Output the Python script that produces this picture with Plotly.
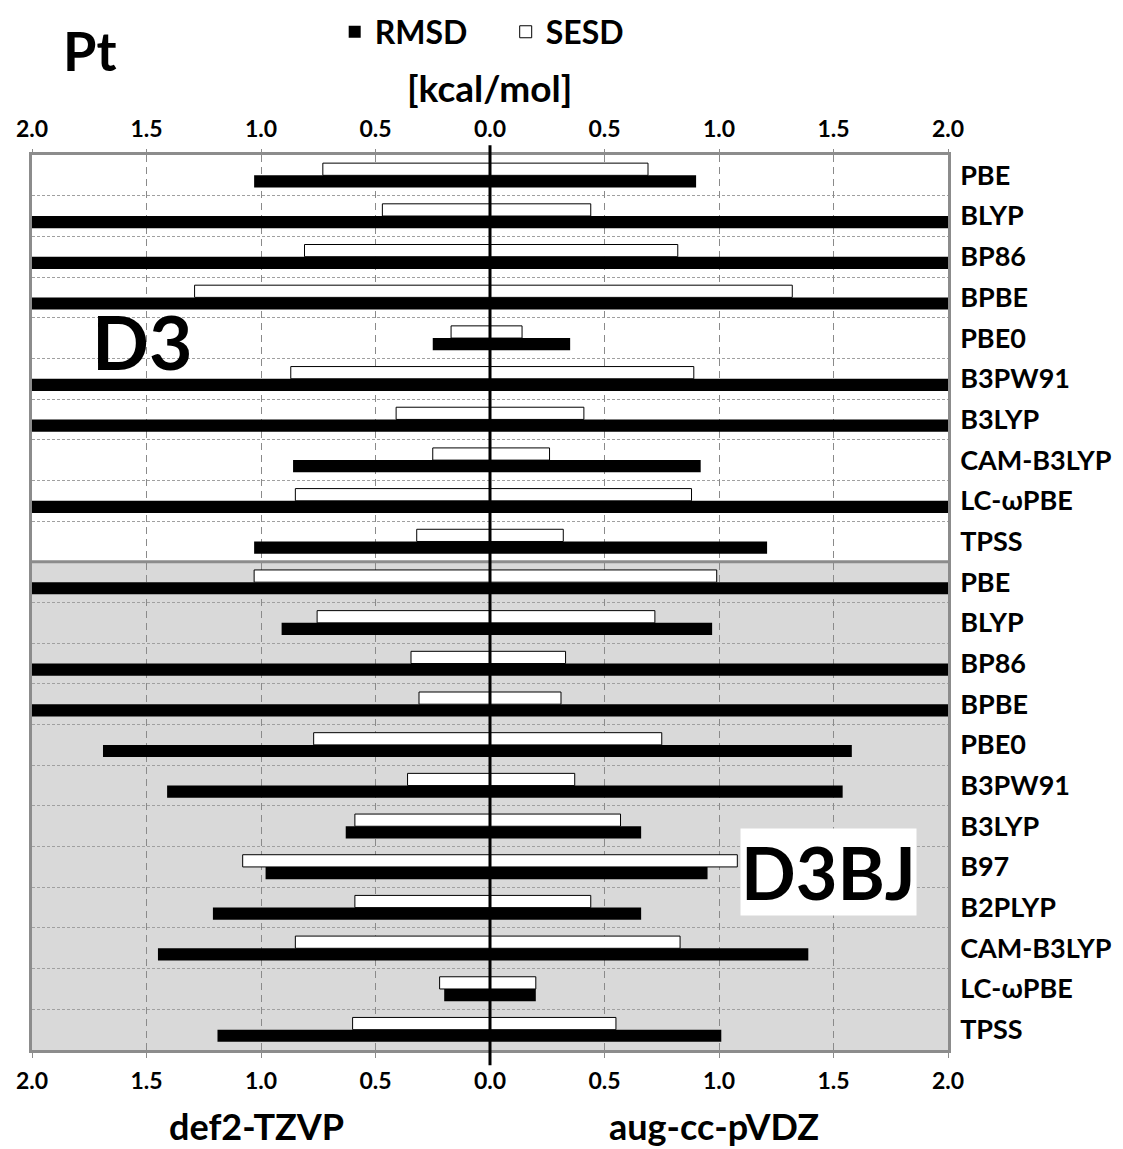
import plotly.graph_objects as go

# ---------------- data ----------------
methods = ["PBE", "BLYP", "BP86", "BPBE", "PBE0", "B3PW91", "B3LYP", "CAM-B3LYP", "LC-ωPBE", "TPSS",
           "PBE", "BLYP", "BP86", "BPBE", "PBE0", "B3PW91", "B3LYP", "B97", "B2PLYP", "CAM-B3LYP", "LC-ωPBE", "TPSS"]
# def2-TZVP (left side); values beyond 2.0 run off the axis in the original
rmsd_def2 = [1.03, 2.5, 2.5, 2.5, 0.25, 2.5, 2.5, 0.86, 2.5, 1.03,
             2.5, 0.91, 2.5, 2.5, 1.69, 1.41, 0.63, 0.98, 1.21, 1.45, 0.20, 1.19]
sesd_def2 = [0.73, 0.47, 0.81, 1.29, 0.17, 0.87, 0.41, 0.25, 0.85, 0.32,
             1.03, 0.755, 0.345, 0.31, 0.77, 0.36, 0.59, 1.08, 0.59, 0.85, 0.22, 0.60]
# aug-cc-pVDZ (right side)
rmsd_aug = [0.90, 2.5, 2.5, 2.5, 0.35, 2.5, 2.5, 0.92, 2.5, 1.21,
            2.5, 0.97, 2.5, 2.5, 1.58, 1.54, 0.66, 0.95, 0.66, 1.39, 0.20, 1.01]
sesd_aug = [0.69, 0.44, 0.82, 1.32, 0.14, 0.89, 0.41, 0.26, 0.88, 0.32,
            0.99, 0.72, 0.33, 0.31, 0.75, 0.37, 0.57, 1.08, 0.44, 0.83, 0.20, 0.55]
n_d3 = 10
tick_vals = [-2, -1.5, -1, -0.5, 0, 0.5, 1, 1.5, 2]
tick_text = ["2.0", "1.5", "1.0", "0.5", "0.0", "0.5", "1.0", "1.5", "2.0"]

FONT = "Lato, 'Open Sans', sans-serif"
rows = list(range(len(methods)))
neg = lambda v: [-a for a in v]

fig = go.Figure()
BW = 0.3
# RMSD (black) - lower bar of each row
fig.add_trace(go.Bar(x=neg(rmsd_def2), y=rows, orientation="h", name="RMSD", legendgroup="r",
                     marker=dict(color="black", line=dict(color="black", width=0)),
                     width=BW, offset=0, showlegend=True))
fig.add_trace(go.Bar(x=rmsd_aug, y=rows, orientation="h", name="RMSD", legendgroup="r",
                     marker=dict(color="black", line=dict(color="black", width=0)),
                     width=BW, offset=0, showlegend=False, xaxis="x2"))
# SESD (white, outlined) - upper bar of each row
fig.add_trace(go.Bar(x=neg(sesd_def2), y=rows, orientation="h", name="SESD", legendgroup="s",
                     marker=dict(color="white", line=dict(color="black", width=1)),
                     width=BW, offset=-BW, showlegend=True))
fig.add_trace(go.Bar(x=sesd_aug, y=rows, orientation="h", name="SESD", legendgroup="s",
                     marker=dict(color="white", line=dict(color="black", width=1)),
                     width=BW, offset=-BW, showlegend=False, xaxis="x2"))

tickfont = dict(family=FONT, size=23, color="black", weight="bold")
fig.update_layout(
    width=1115, height=1141,
    margin=dict(l=24, r=175, t=147, b=99),
    paper_bgcolor="white", plot_bgcolor="white",
    barmode="overlay",
    font=dict(family=FONT, color="black"),
    xaxis=dict(range=[-2, 2], tickvals=tick_vals, ticktext=tick_text, tickfont=tickfont,
               showgrid=True, gridcolor="#8a8a8a", griddash="7px,5px", gridwidth=1,
               zeroline=False, showline=True, mirror=True, linecolor="#8c8c8c", linewidth=2.5,
               ticks="outside", ticklen=5, tickcolor="#8c8c8c", ticklabelstandoff=4, fixedrange=True,
               automargin=False),
    xaxis2=dict(range=[-2, 2], matches="x", overlaying="x", side="top", tickvals=tick_vals,
                ticktext=tick_text, tickfont=tickfont, showgrid=False, zeroline=False,
                ticks="outside", ticklen=5, tickcolor="#8c8c8c", ticklabelstandoff=3,
                showline=False, automargin=False),
    yaxis=dict(range=[len(methods) - 0.5, -0.5], tickvals=rows, ticktext=methods, side="right",
               tickfont=dict(family=FONT, size=27, color="black", weight="bold"),
               showgrid=False, zeroline=False, showline=True, mirror=True, automargin=False,
               linecolor="#8c8c8c", linewidth=2.5, ticks="", ticklabelstandoff=4,
               minor=dict(tickvals=[i + 0.5 for i in range(len(methods) - 1)], showgrid=True,
                          gridcolor="#a0a0a0", griddash="3px,2px", gridwidth=1, ticks="")),
    legend=dict(orientation="h", xref="container", yref="container", x=0.293, y=0.979,
                xanchor="left", yanchor="middle",
                font=dict(family=FONT, size=32, color="black", weight="bold"),
                bgcolor="rgba(0,0,0,0)", itemwidth=30, entrywidth=126, traceorder="normal"),
    showlegend=True,
)

# shaded D3BJ block, separator, centre line
fig.add_shape(type="rect", xref="paper", yref="y", x0=0, x1=1, y0=n_d3 - 0.5, y1=len(methods) - 0.5,
              fillcolor="#d9d9d9", line=dict(width=0), layer="below")
fig.add_shape(type="line", xref="paper", yref="y", x0=0, x1=1, y0=n_d3 - 0.5, y1=n_d3 - 0.5,
              line=dict(color="#8c8c8c", width=3), layer="above")
fig.add_shape(type="line", xref="x", yref="paper", x0=0, x1=0, y0=-0.017, y1=1.011,
              line=dict(color="black", width=3), layer="above")

def ann(text, x, y, size, **kw):
    fig.add_annotation(text=text, x=x, y=y, xref="paper", yref="paper", showarrow=False,
                       xanchor="center", yanchor="middle",
                       font=dict(family=FONT, size=size, color="black", weight="bold"), **kw)

ann("Pt", 0.063, 1.117, 54)
ann("[kcal/mol]", 0.499, 1.075, 37)
ann("D3", 0.121, 0.792, 75)
ann("D3BJ", 0.869, 0.199, 72, bgcolor="white", borderpad=0)
ann("def2-TZVP", 0.245, -0.085, 36)
ann("aug-cc-pVDZ", 0.745, -0.085, 36)

fig.write_html("out.html")
